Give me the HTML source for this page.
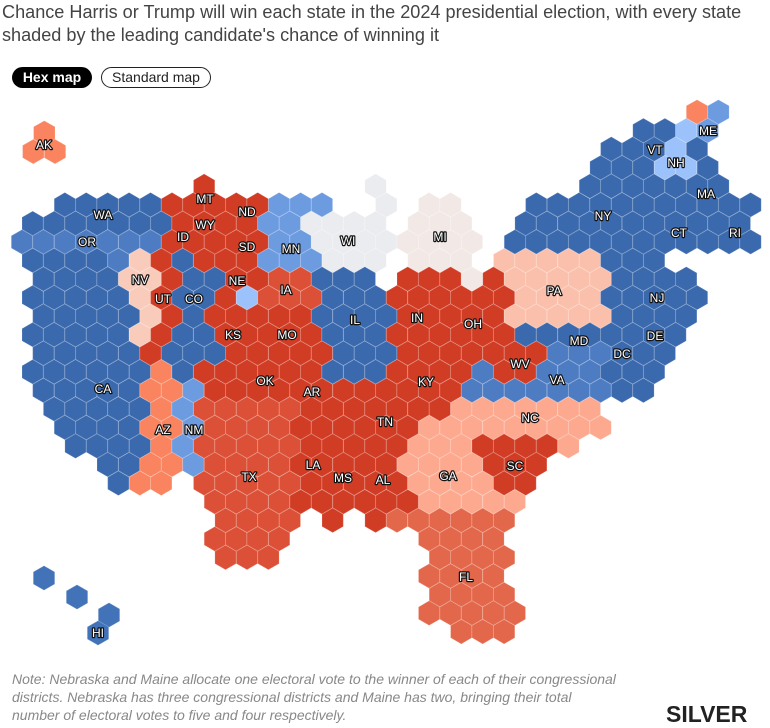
<!DOCTYPE html>
<html><head><meta charset="utf-8">
<style>
body{margin:0;width:770px;height:725px;background:#fff;overflow:hidden;font-family:"Liberation Sans",sans-serif;position:relative}
.t{position:absolute;left:2px;top:1px;font-size:18.1px;line-height:23px;color:#444;width:770px;white-space:nowrap}
.btn{position:absolute;top:67px;height:21px;border-radius:11px;font-size:14px;line-height:21px;text-align:center;box-sizing:border-box}
.note{position:absolute;left:12px;top:670px;font-size:14px;line-height:18px;color:#888;font-style:italic;white-space:nowrap}
.logo{position:absolute;left:666px;top:701px;font-size:23px;font-weight:bold;color:#222;letter-spacing:0px}
svg{position:absolute;left:0;top:0}
svg text{font-family:"Liberation Sans",sans-serif;font-size:12px;fill:#fff;stroke:#111;stroke-width:2.4px;paint-order:stroke;text-anchor:middle;dominant-baseline:central;stroke-linejoin:round}
</style></head><body>
<div class="t">Chance Harris or Trump will win each state in the 2024 presidential election, with every state<br>shaded by the leading candidate's chance of winning it</div>
<div class="btn" style="left:12px;width:80px;background:#000;color:#fff;font-weight:bold">Hex map</div>
<div class="btn" style="left:101px;width:110px;border:1px solid #222;color:#222;line-height:19px">Standard map</div>
<svg id="m" width="770" height="725" xmlns="http://www.w3.org/2000/svg">
<g id="hx"></g>
<g id="lb">
<text x="44" y="145">AK</text><text x="103" y="215">WA</text><text x="87" y="242">OR</text>
<text x="205" y="199">MT</text><text x="247" y="212">ND</text><text x="205" y="225">WY</text>
<text x="183" y="237">ID</text><text x="247" y="247">SD</text><text x="291" y="249">MN</text>
<text x="348" y="241">WI</text><text x="440" y="237">MI</text><text x="140" y="280">NV</text>
<text x="237" y="281">NE</text><text x="286" y="290">IA</text><text x="163" y="299">UT</text>
<text x="194" y="299">CO</text><text x="233" y="335">KS</text><text x="287" y="335">MO</text>
<text x="355" y="320">IL</text><text x="417" y="318">IN</text><text x="473" y="324">OH</text>
<text x="554" y="291">PA</text><text x="657" y="298">NJ</text><text x="655" y="336">DE</text>
<text x="579" y="341">MD</text><text x="622" y="354">DC</text><text x="520" y="364">WV</text>
<text x="557" y="380">VA</text><text x="426" y="382">KY</text><text x="265" y="381">OK</text>
<text x="312" y="392">AR</text><text x="385" y="422">TN</text><text x="530" y="418">NC</text>
<text x="515" y="466">SC</text><text x="448" y="476">GA</text><text x="383" y="480">AL</text>
<text x="343" y="478">MS</text><text x="313" y="465">LA</text><text x="249" y="477">TX</text>
<text x="163" y="430">AZ</text><text x="194" y="430">NM</text><text x="103" y="389">CA</text>
<text x="466" y="577">FL</text><text x="98" y="633">HI</text><text x="603" y="216">NY</text>
<text x="655" y="150">VT</text><text x="676" y="163">NH</text><text x="708" y="131">ME</text>
<text x="706" y="194">MA</text><text x="679" y="233">CT</text><text x="735" y="233">RI</text>
</g>
</svg>
<div class="note">Note: Nebraska and Maine allocate one electoral vote to the winner of each of their congressional<br>districts. Nebraska has three congressional districts and Maine has two, bringing their total<br>number of electoral votes to five and four respectively.</div>
<div class="logo">SILVER</div>
<script>
var C={B:"#3a69ad",b:"#4d7cc2",m:"#6c9be0",l:"#9cc2fb",w:"#ebecf0",v:"#f2e9e6",q:"#f9cbbb",P:"#fbc0ac",p:"#fda98f",o:"#f9845f",R:"#d13c25",r:"#db5036",f:"#e3674a",H:"#4272b8"};
var rows=[
[[686,708,"o"],[708,730,"m"]],
[[632,676,"B"],[676,697,"l"],[697,719,"m"]],
[[600,665,"B"],[665,687,"l"],[687,708,"B"]],
[[590,655,"B"],[655,697,"l"],[697,718,"B"]],
[[195,215,"R"],[365,387,"w"],[580,720,"B"]],
[[55,163,"B"],[163,258,"R"],[258,333,"m"],[375,397,"w"],[420,462,"v"],[527,762,"B"]],
[[23,172,"B"],[172,258,"R"],[258,300,"m"],[300,387,"w"],[408,472,"v"],[515,750,"B"]],
[[11,163,"b"],[163,268,"R"],[268,312,"m"],[312,387,"w"],[398,483,"v"],[505,762,"B"]],
[[23,108,"B"],[108,130,"b"],[130,152,"q"],[152,173,"R"],[173,195,"B"],[195,258,"R"],[258,322,"m"],[322,387,"w"],[408,473,"v"],[495,600,"P"],[600,665,"B"]],
[[33,118,"B"],[118,160,"q"],[160,180,"R"],[180,215,"B"],[215,258,"R"],[258,312,"r"],[312,377,"B"],[387,462,"R"],[462,483,"v"],[483,505,"R"],[505,610,"P"],[610,697,"B"]],
[[23,130,"B"],[130,152,"q"],[152,173,"R"],[173,217,"B"],[217,238,"R"],[238,260,"l"],[260,322,"r"],[322,387,"B"],[387,515,"R"],[515,600,"P"],[600,707,"B"]],
[[33,140,"B"],[140,162,"q"],[162,183,"R"],[183,205,"B"],[205,312,"R"],[312,397,"B"],[397,505,"R"],[505,612,"P"],[612,697,"B"]],
[[23,130,"B"],[130,152,"q"],[152,173,"R"],[173,217,"B"],[217,322,"R"],[322,387,"B"],[387,515,"R"],[515,687,"B"]],
[[33,140,"B"],[140,162,"R"],[162,215,"B"],[215,333,"R"],[333,397,"B"],[397,547,"R"],[547,612,"b"],[612,675,"B"]],
[[23,152,"B"],[152,173,"o"],[173,193,"B"],[193,322,"R"],[322,387,"B"],[387,462,"R"],[462,500,"b"],[500,537,"R"],[537,600,"b"],[600,665,"B"]],
[[33,140,"B"],[140,183,"o"],[183,205,"m"],[205,462,"R"],[462,612,"b"],[612,653,"B"]],
[[43,152,"B"],[152,173,"o"],[173,193,"m"],[193,290,"r"],[290,440,"R"],[440,600,"p"]],
[[55,140,"B"],[140,183,"o"],[183,205,"m"],[205,290,"r"],[290,408,"R"],[408,612,"p"]],
[[66,152,"B"],[152,173,"o"],[173,193,"m"],[193,290,"r"],[290,408,"R"],[408,473,"p"],[473,558,"R"],[558,580,"p"]],
[[88,140,"B"],[140,183,"o"],[183,205,"m"],[205,290,"r"],[290,397,"R"],[397,493,"p"],[493,547,"R"]],
[[98,130,"B"],[130,173,"o"],[193,300,"r"],[300,407,"R"],[408,493,"p"],[493,537,"R"]],
[[205,290,"r"],[290,418,"R"],[418,525,"p"]],
[[215,302,"r"],[323,343,"R"],[365,387,"R"],[387,515,"f"]],
[[205,290,"r"],[420,503,"f"]],
[[215,280,"r"],[430,515,"f"]],
[[420,503,"f"]],
[[430,515,"f"]],
[[420,525,"f"]],
[[452,515,"f"]]
];
var R=12.3,s="";
function hex(cx,cy,col){var p=[];for(var i=0;i<6;i++){var a=Math.PI/180*(60*i-90);p.push((cx+R*Math.cos(a)).toFixed(1)+","+(cy+R*Math.sin(a)).toFixed(1));}
s+='<polygon points="'+p.join(" ")+'" fill="'+col+'" stroke="rgba(255,255,255,0.16)" stroke-width="1"/>';}
rows.forEach(function(segs,r){var y=112+18.56*r;for(var c=0;c<36;c++){var x=11.24+21.43*c+(r%2?10.72:0);
for(var k=0;k<segs.length;k++){if(x>=segs[k][0]&&x<segs[k][1]){hex(x,y,C[segs[k][2]]);break;}}}});
hex(44.3,133,C.o);hex(33.3,151.6,C.o);hex(55,151.6,C.o);
hex(44,578,C.H);hex(77,597,C.H);hex(109,615,C.H);hex(98,633,C.H);
document.getElementById("hx").innerHTML=s;
</script>
</body></html>
